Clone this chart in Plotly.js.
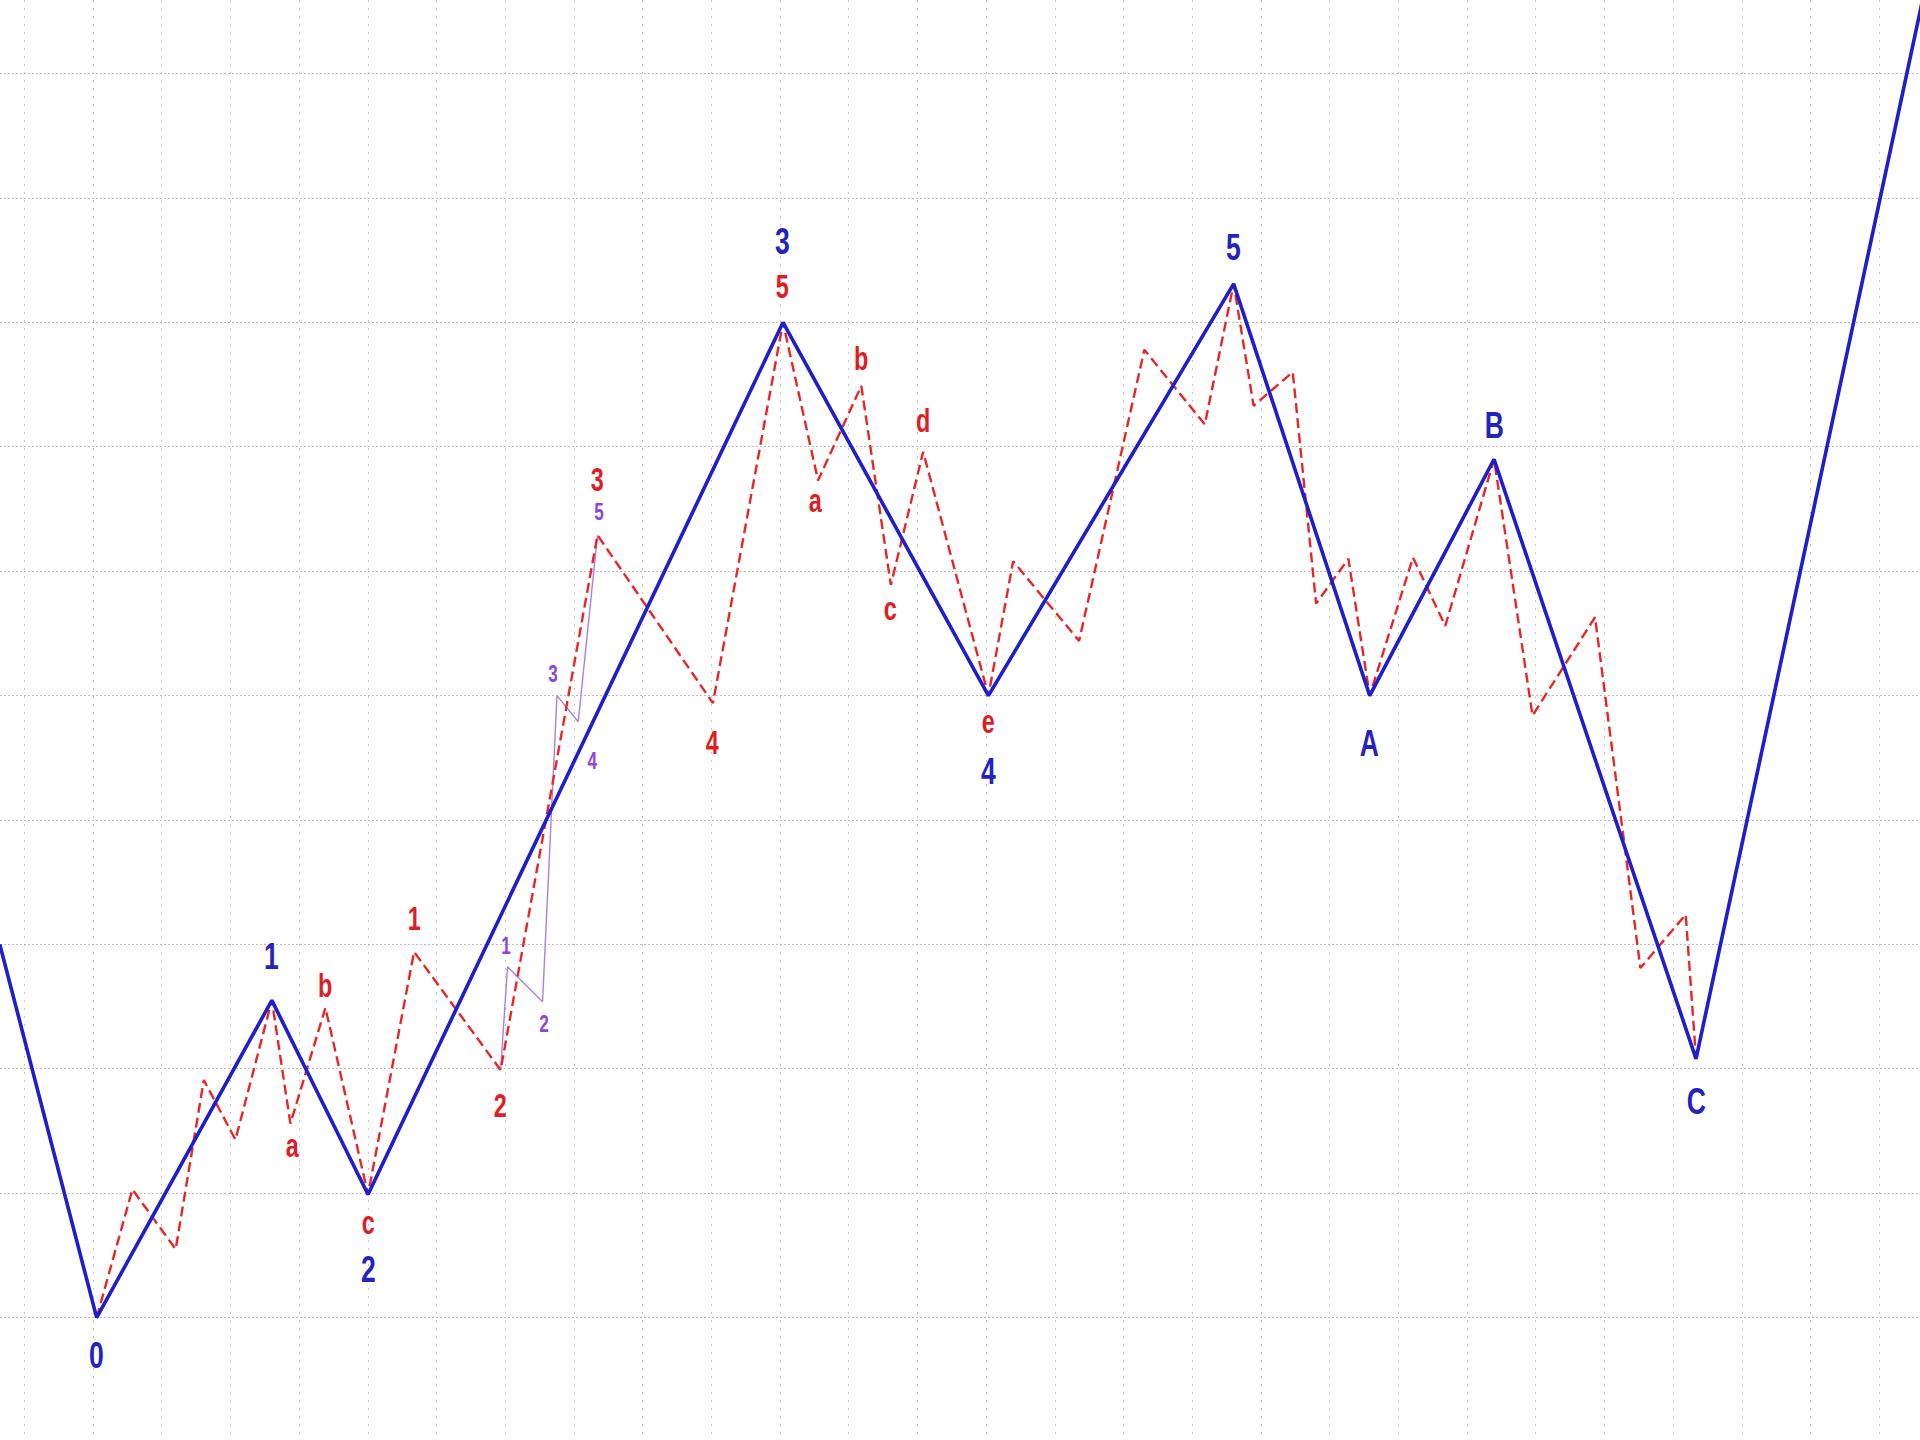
<!DOCTYPE html>
<html>
<head>
<meta charset="utf-8">
<script src="https://cdn.plot.ly/plotly-3.0.1.min.js"></script>
<style>
  html, body { margin: 0; padding: 0; background: #ffffff; }
  #chart { width: 1920px; height: 1440px; }
  /* condensed, slightly taller lettering like the reference */
  #chart .annotation-text {
    transform-box: fill-box;
    transform-origin: 50% 50%;
    transform: scale(0.78, 1.08);
  }
</style>
</head>
<body>
<div id="chart"></div>
<script>
// ---- Data (grid units: x = bars, y = price levels) ----
// Primary degree wave (blue, solid)
const blueX = [-0.36, 1.05, 3.6, 5.0, 11.04, 14.03, 17.6, 19.58, 21.39, 24.33, 27.63];
const blueY = [3.0, 0, 2.55, 0.99, 8, 5, 8.31, 5, 6.9, 2.08, 10.6];

// Intermediate degree wave (red, dashed)
const redX = [1.05, 1.57, 2.2, 2.61, 3.07, 3.6, 3.87, 4.38, 5.0, 5.67, 6.93, 8.34, 10.02,
              11.04, 11.55, 12.18, 12.61, 13.08, 14.03, 14.39, 15.35, 16.3, 17.18, 17.6,
              17.89, 18.46, 18.8, 19.27, 19.58, 20.21, 20.68, 21.39, 21.95, 22.86,
              23.52, 24.18, 24.33];
const redY = [0, 1.03, 0.55, 1.91, 1.43, 2.55, 1.56, 2.49, 0.99, 2.94, 1.99, 6.29, 4.94,
              8, 6.73, 7.49, 5.89, 6.96, 5, 6.08, 5.44, 7.78, 7.18, 8.31,
              7.33, 7.6, 5.74, 6.1, 5, 6.11, 5.56, 6.9, 4.84, 5.63,
              2.81, 3.24, 2.08];

// Minor degree wave (purple, thin)
const purpleX = [6.93, 7.03, 7.54, 7.75, 8.06, 8.34];
const purpleY = [1.99, 2.82, 2.54, 5.0, 4.79, 6.29];

// Wave labels: text, index of the point they mark, vertical offset (px), horizontal offset (px)
const blueLabels   = ["0", "1", "2", "3", "4", "5", "A", "B", "C"];
const blueLabelIdx = [1, 2, 3, 4, 5, 6, 7, 8, 9];
const blueLabelDy  = [-37, 44, -75, 81, -75, 37, -47, 34, -42];
const blueLabelDx  = [0, 0, 0, 0, 0, 0, 0, 0, 0];

const redLabels   = ["a", "b", "c", "1", "2", "3", "4", "5", "a", "b", "c", "d", "e"];
const redLabelIdx = [6, 7, 8, 9, 10, 11, 12, 13, 14, 15, 16, 17, 18];
const redLabelDy  = [-22, 22, -28, 33, -35, 56, -39, 36, -20, 27, -24, 31, -26];
const redLabelDx  = [2, 0, 0, 0, 0, 0, 0, 0, -3, 0, 0, 0, 0];

const purpleLabels   = ["1", "2", "3", "4", "5"];
const purpleLabelIdx = [1, 2, 3, 4, 5];
const purpleLabelDy  = [21, -22, 22, -39, 24];
const purpleLabelDx  = [-2, 1, -4, 14, 1];

// ---- Styling ----
const BLUE = "rgb(30,30,205)";
const BLUE_TXT = "rgb(35,35,190)";
const RED = "rgb(232,38,38)";
const RED_TXT = "rgb(222,30,36)";
const PURPLE = "rgb(168,128,232)";
const PURPLE_TXT = "rgb(140,70,220)";
const FONT = "Liberation Sans Narrow, Arial Narrow, Liberation Sans, Arial, sans-serif";

const traces = [
  { x: purpleX, y: purpleY, type: "scatter", mode: "lines",
    line: { color: PURPLE, width: 1.4 }, hoverinfo: "skip" },
  { x: redX, y: redY, type: "scatter", mode: "lines",
    line: { color: RED, width: 2.4, dash: "10px,5px" }, hoverinfo: "skip" },
  { x: blueX, y: blueY, type: "scatter", mode: "lines",
    line: { color: BLUE, width: 3.6 }, hoverinfo: "skip" }
];

function makeLabels(texts, idx, dy, dx, xs, ys, color, size) {
  return texts.map((t, i) => ({
    x: xs[idx[i]], y: ys[idx[i]], xref: "x", yref: "y",
    text: t, showarrow: false, xanchor: "center", yanchor: "middle",
    yshift: dy[i], xshift: dx[i],
    font: { family: FONT, size: size, color: color, weight: "bold" }
  }));
}

const annotations = []
  .concat(makeLabels(blueLabels, blueLabelIdx, blueLabelDy, blueLabelDx, blueX, blueY, BLUE_TXT, 34))
  .concat(makeLabels(redLabels, redLabelIdx, redLabelDy, redLabelDx, redX, redY, RED_TXT, 30))
  .concat(makeLabels(purpleLabels, purpleLabelIdx, purpleLabelDy, purpleLabelDx, purpleX, purpleY, PURPLE_TXT, 22));

const layout = {
  width: 1920, height: 1440,
  margin: { l: 0, r: 0, t: 0, b: 0, pad: 0 },
  paper_bgcolor: "#ffffff", plot_bgcolor: "#ffffff",
  showlegend: false,
  xaxis: {
    range: [-0.357, 27.59], tick0: 0, dtick: 1,
    showgrid: true, gridcolor: "#c8c8c8", gridwidth: 1, griddash: "2px,6px",
    zeroline: false, showticklabels: false, ticks: "", showline: false, fixedrange: true
  },
  yaxis: {
    range: [-0.984, 10.592], tick0: 0, dtick: 1,
    showgrid: true, gridcolor: "#bdbdbd", gridwidth: 1, griddash: "2px,2px",
    zeroline: false, showticklabels: false, ticks: "", showline: false, fixedrange: true
  },
  annotations: annotations
};

Plotly.newPlot("chart", traces, layout, { staticPlot: true, displayModeBar: false });
</script>
</body>
</html>
